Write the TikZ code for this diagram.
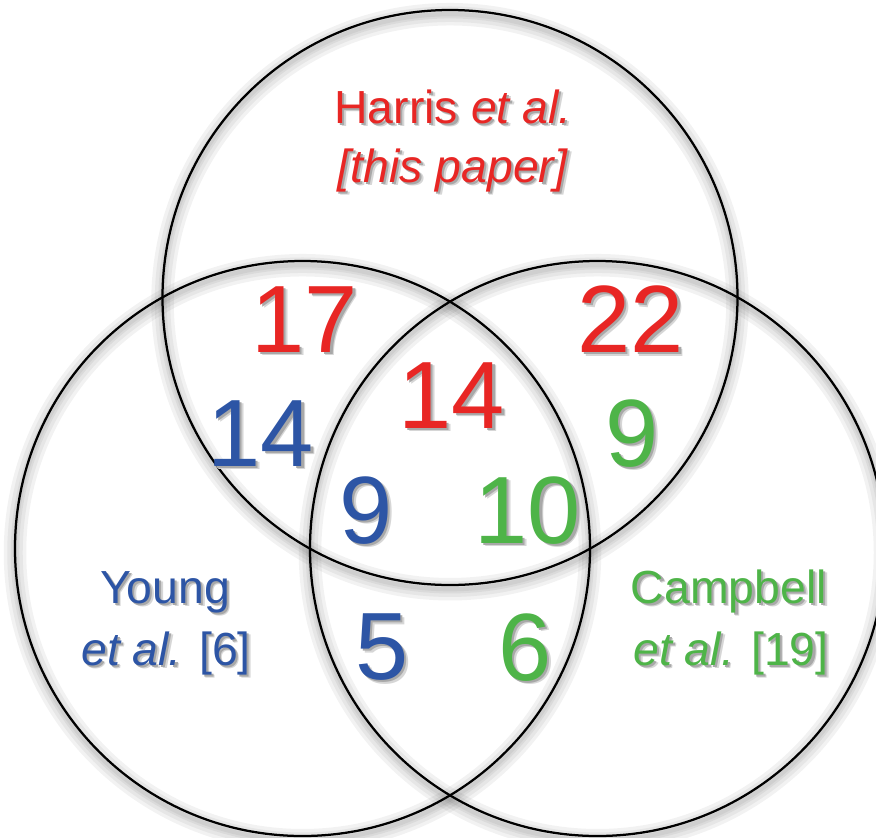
\documentclass[tikz,border=0pt]{standalone}
\usepackage{fontspec}
\setmainfont{Liberation Sans}
\definecolor{vred}{RGB}{232,38,36}
\definecolor{vblue}{RGB}{45,85,165}
\definecolor{vgreen}{RGB}{78,180,72}

% text with a soft drop shadow behind it
\newcommand{\shd}[1]{%
  \makebox[0pt][l]{\hspace{2.6pt}\raisebox{-2.6pt}{\color{black!16}#1}}%
  \makebox[0pt][l]{\hspace{1.5pt}\raisebox{-1.5pt}{\color{black!34}#1}}#1}

\begin{document}
\begin{tikzpicture}[x=0.025cm, y=-0.025cm,
    ring/.style={line width=1.6pt},
    ringshade/.style={line width=#1, black, opacity=0.05},
    num/.style={font=\fontsize{68}{68}\selectfont, inner sep=0},
    lab/.style={font=\fontsize{33}{40}\selectfont, inner sep=0, anchor=base}]
  \useasboundingbox (0,0) rectangle (876,837);
  \coordinate (harris-c) at (450,297.5);
  \coordinate (young-c) at (302.5,548.5);
  \coordinate (campbell-c) at (597.5,548.5);
  % soft shadow of the rings
  \foreach \c in {harris-c,young-c,campbell-c}
    \foreach \w in {16pt,11pt,6pt,3pt}
      \draw[ringshade=\w] ([yshift=-3pt]\c) circle (287.5);
  \foreach \c in {harris-c,young-c,campbell-c}
    \draw[ring] (\c) circle (287.5);
  % labels
  \node[lab, text=vred] (harris1) at (453,123) {\shd{Harris \textit{et al.}}};
  \node[lab, text=vred] (harris2) at (453,182) {\shd{\textit{[this paper]}}};
  \node[lab, text=vblue] (young1) at (165,603) {\shd{Young}};
  \node[lab, text=vblue] (young2) at (166,665) {\shd{\textit{et al.} [6]}};
  \node[lab, text=vgreen] (campbell1) at (729,603) {\shd{Campbell}};
  \node[lab, text=vgreen] (campbell2) at (731,665) {\shd{\textit{et al.} [19]}};
  % counts
  \node[num, text=vred] (n17) at (305,321) {\shd{17}};
  \node[num, text=vred] (n22) at (631,321) {\shd{22}};
  \node[num, text=vred] (n14r) at (452,397) {\shd{14}};
  \node[num, text=vblue] (n14b) at (261,435) {\shd{14}};
  \node[num, text=vgreen] (n9g) at (632,435) {\shd{9}};
  \node[num, text=vblue] (n9b) at (366,512) {\shd{9}};
  \node[num, text=vgreen] (n10) at (528,512) {\shd{10}};
  \node[num, text=vblue] (n5) at (382,649) {\shd{5}};
  \node[num, text=vgreen] (n6) at (525,649) {\shd{6}};
\end{tikzpicture}
\end{document}
